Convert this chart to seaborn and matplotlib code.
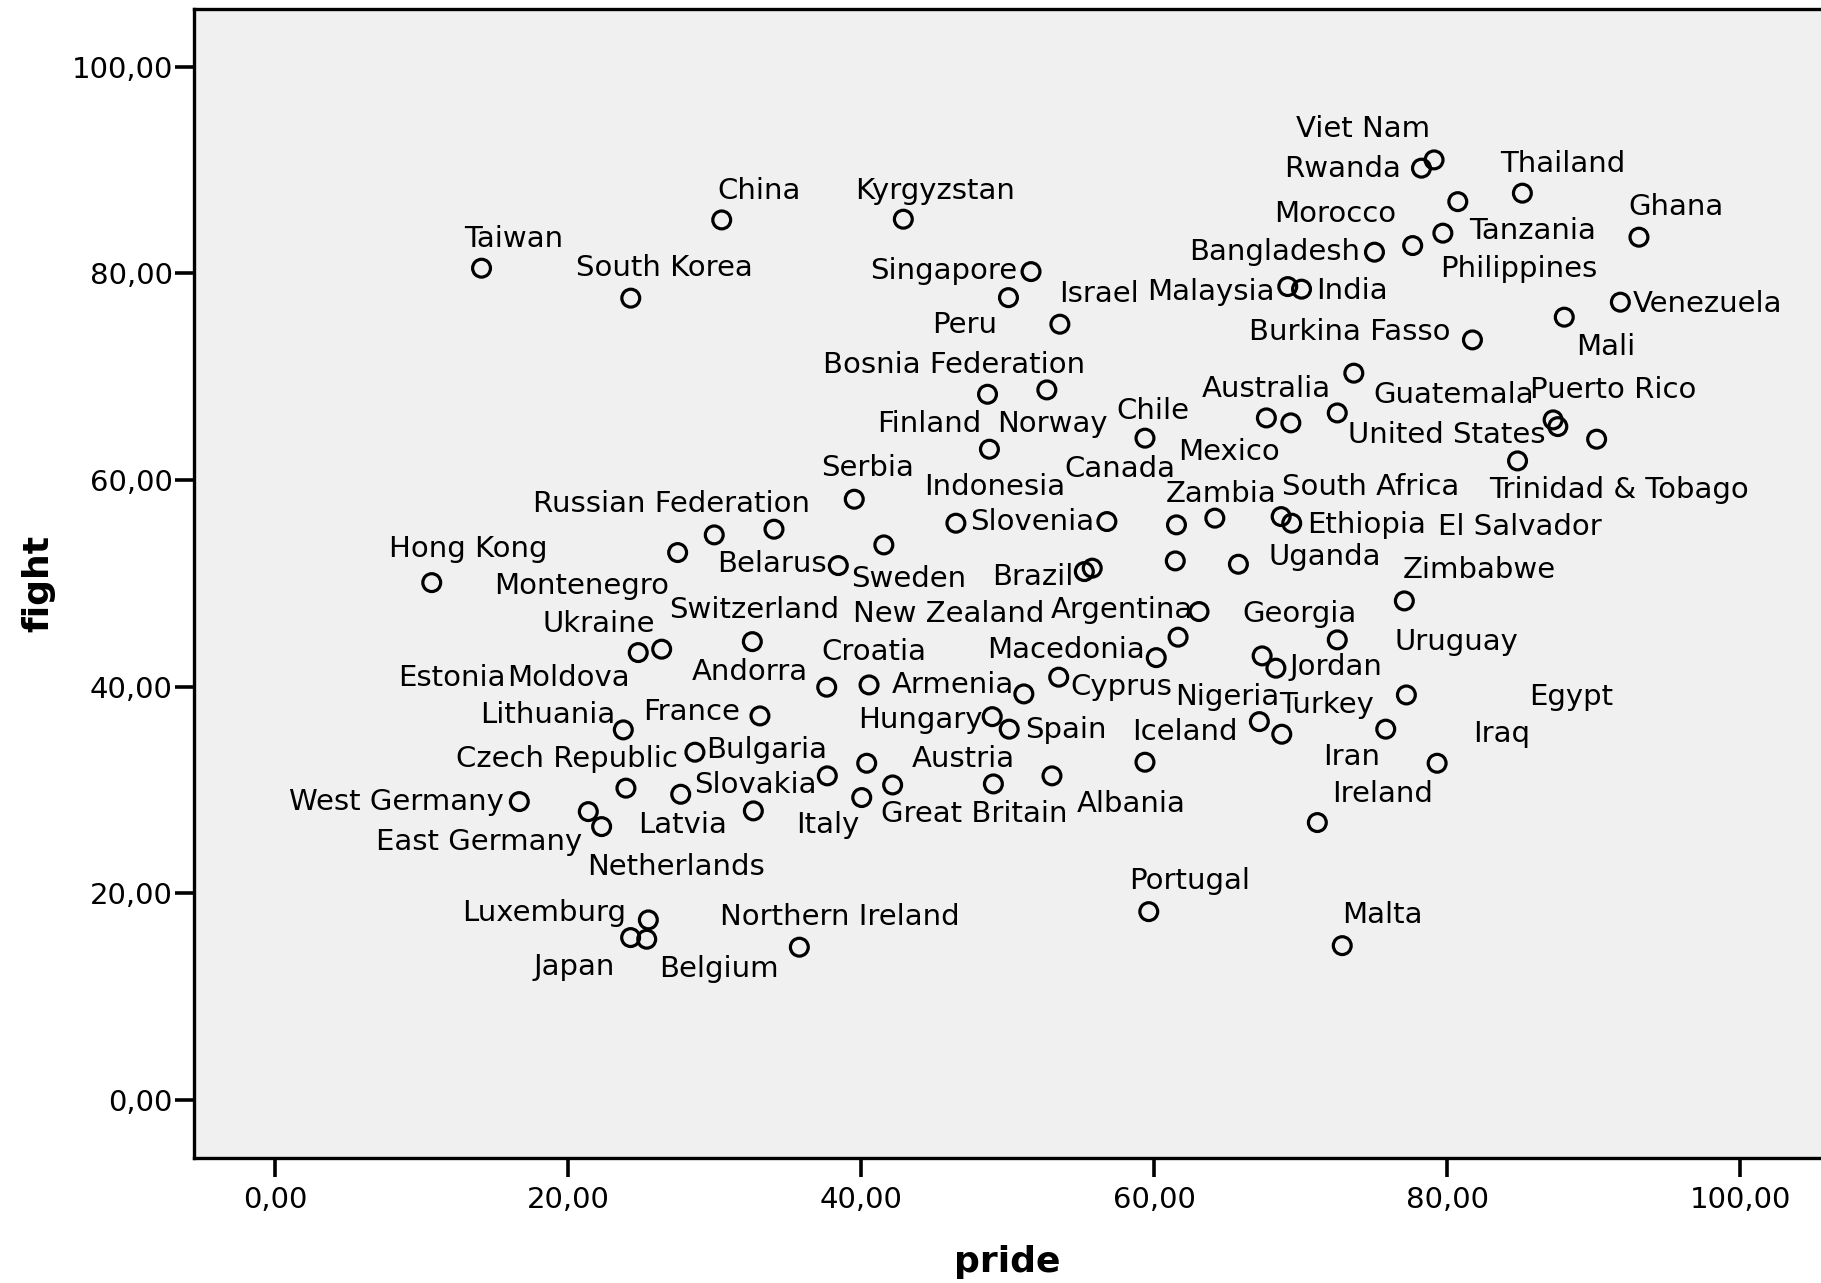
import matplotlib
matplotlib.use("Agg")
import matplotlib.pyplot as plt
import seaborn as sns
import pandas as pd

# Country-level percentages: national pride vs. willingness to fight for the country
countries = [
    "Taiwan", "South Korea", "China", "Kyrgyzstan", "Singapore", "Peru", "Israel",
    "Bosnia Federation", "Norway", "Finland",
    "Viet Nam", "Rwanda", "Thailand", "Tanzania", "Philippines", "Morocco", "Bangladesh",
    "Ghana", "Malaysia", "India",
    "Venezuela", "Mali", "Burkina Fasso", "Australia", "Guatemala", "Puerto Rico",
    "United States", "Trinidad & Tobago", "El Salvador", "Mexico",
    "Chile", "Canada", "Indonesia", "Zambia", "South Africa", "Ethiopia", "Slovenia",
    "Brazil", "New Zealand", "Uganda",
    "Zimbabwe", "Georgia", "Uruguay", "Jordan", "Egypt", "Nigeria", "Turkey", "Iran",
    "Iraq", "Ireland",
    "Portugal", "Malta", "Iceland", "Serbia", "Russian Federation", "Belarus", "Hong Kong",
    "Montenegro", "Sweden", "Switzerland",
    "Ukraine", "Moldova", "Estonia", "Croatia", "Andorra", "Lithuania", "France",
    "Czech Republic", "Bulgaria", "Slovakia",
    "West Germany", "Latvia", "Italy", "East Germany", "Netherlands", "Armenia", "Hungary",
    "Spain", "Austria", "Great Britain",
    "Albania", "Cyprus", "Macedonia", "Argentina", "Luxemburg", "Japan", "Belgium",
    "Northern Ireland",
]

pride = [
    14.07, 24.26, 30.47, 42.87, 51.59, 50.05, 53.56, 48.62, 52.67, 48.75,
    79.11, 78.25, 85.14, 80.73, 79.71, 77.65, 75.04, 93.10, 69.12, 70.06,
    91.83, 88.00, 81.73, 67.66, 73.63, 87.24, 87.56, 90.21, 84.81, 69.33,
    59.37, 64.14, 46.46, 61.52, 68.67, 69.39, 56.77, 55.23, 55.77, 65.75,
    77.08, 67.37, 72.50, 68.31, 77.22, 67.18, 75.81, 68.71, 79.32, 71.14,
    59.63, 72.84, 59.37, 39.52, 34.04, 38.43, 10.67, 27.46, 41.54, 32.56,
    24.77, 26.37, 29.96, 40.53, 37.64, 23.75, 33.08, 23.93, 28.64, 37.68,
    16.65, 27.67, 32.63, 22.27, 21.36, 51.10, 48.94, 50.10, 40.37, 40.03,
    53.02, 53.48, 60.14, 63.06, 25.46, 24.25, 25.35, 35.77,
]

fight = [
    80.49, 77.59, 85.16, 85.23, 80.16, 77.64, 75.07, 68.29, 68.71, 62.97,
    90.97, 90.17, 87.75, 86.93, 83.88, 82.68, 82.04, 83.49, 78.71, 78.46,
    77.20, 75.75, 73.55, 66.00, 70.33, 65.81, 65.16, 63.94, 61.84, 65.52,
    64.04, 56.30, 55.81, 55.65, 56.45, 55.81, 55.97, 51.13, 51.46, 51.84,
    48.29, 42.97, 44.52, 41.78, 39.19, 36.61, 35.88, 35.39, 32.58, 26.84,
    18.22, 14.93, 32.68, 58.13, 55.23, 51.71, 50.06, 52.97, 53.71, 44.35,
    43.29, 43.62, 54.68, 40.16, 39.94, 35.81, 37.16, 30.17, 33.65, 31.36,
    28.87, 29.58, 27.97, 26.45, 27.90, 39.29, 37.09, 35.88, 32.58, 29.26,
    31.36, 40.91, 42.80, 47.26, 17.42, 15.71, 15.55, 14.78,
]

# Cases whose labels are not printed
unlabeled_pride = [72.50, 61.63, 61.44, 42.14, 49.02]
unlabeled_fight = [66.48, 44.78, 52.16, 30.48, 30.58]

tick_values = [0, 20, 40, 60, 80, 100]
tick_labels = ["0,00", "20,00", "40,00", "60,00", "80,00", "100,00"]

# Where each case label sits: offset in pixels from the marker to the
# left end of the label's baseline (dx to the right, dy upward)
label_offsets = {
    "Taiwan": (-17.0, 21.6), "South Korea": (-54.3, 22.3), "China": (-4.0, 21.0),
    "Kyrgyzstan": (-48.3, 20.3), "Singapore": (-161.0, -7.6), "Peru": (-76.4, -35.6),
    "Israel": (-1.2, 22.6), "Bosnia Federation": (-164.1, 21.0), "Norway": (-49.4, -41.7),
    "Finland": (-112.7, 17.6), "Viet Nam": (-138.4, 23.3), "Rwanda": (-137.2, -8.4),
    "Thailand": (-21.8, 21.6), "Tanzania": (11.1, -37.6), "Philippines": (-2.8, -44.0),
    "Morocco": (-138.4, 24.0), "Bangladesh": (-185.2, -7.7), "Ghana": (-10.7, 22.3),
    "Malaysia": (-140.9, -13.3), "India": (15.0, -10.0), "Venezuela": (12.7, -10.0),
    "Mali": (11.4, -37.7), "Burkina Fasso": (-223.8, 0.0), "Australia": (-64.7, 21.3),
    "Guatemala": (19.5, -30.0), "Puerto Rico": (-22.9, 21.7), "United States": (-210.1, -16.6),
    "Trinidad & Tobago": (-107.2, -59.0), "El Salvador": (-79.2, -74.0), "Mexico": (-113.2, -37.0),
    "Chile": (-28.9, 19.3), "Canada": (-150.9, 41.3), "Indonesia": (-31.7, 28.3),
    "Zambia": (-10.5, 23.3), "South Africa": (0.6, 21.7), "Ethiopia": (15.0, -9.4),
    "Slovenia": (-137.2, -8.3), "Brazil": (-91.8, -13.3), "New Zealand": (-239.3, -53.4),
    "Uganda": (29.9, -0.7), "Zimbabwe": (-1.1, 22.7), "Georgia": (-19.4, 34.3),
    "Uruguay": (57.1, -10.0), "Jordan": (14.1, -6.7), "Egypt": (122.6, -10.0),
    "Nigeria": (-84.0, 16.7), "Turkey": (-106.8, 16.0), "Iran": (41.6, -30.7),
    "Iraq": (35.6, 21.6), "Ireland": (14.3, 21.0), "Portugal": (-20.1, 22.4),
    "Malta": (0.0, 22.4), "Iceland": (-13.1, 22.3), "Serbia": (-32.9, 23.3),
    "Russian Federation": (-240.7, 17.6), "Belarus": (-121.6, -6.0), "Hong Kong": (-42.7, 25.4),
    "Montenegro": (-183.7, -41.3), "Sweden": (-32.8, -41.7), "Switzerland": (-83.0, 23.4),
    "Ukraine": (-96.0, 21.0), "Moldova": (-155.0, -36.7), "Estonia": (-316.0, -151.0),
    "Croatia": (-47.6, 25.0), "Andorra": (-135.0, 7.3), "Lithuania": (-143.3, 6.7),
    "France": (-116.7, -4.0), "Czech Republic": (-170.0, 21.6), "Bulgaria": (11.7, -6.0),
    "Slovakia": (-133.3, -16.7), "West Germany": (-230.6, -8.3), "Latvia": (-42.4, -39.0),
    "Italy": (42.7, -22.3), "East Germany": (-226.1, -23.3), "Netherlands": (-1.0, -63.3),
    "Armenia": (-132.1, 0.7), "Hungary": (-134.4, -11.6), "Spain": (15.8, -9.0),
    "Austria": (44.9, -3.4), "Great Britain": (19.0, -24.0), "Albania": (24.5, -35.7),
    "Cyprus": (11.8, -17.7), "Macedonia": (-168.8, -0.6), "Argentina": (-148.2, -6.6),
    "Luxemburg": (-186.6, -1.0), "Japan": (-96.7, -37.3), "Belgium": (12.6, -37.4),
    "Northern Ireland": (-79.3, 22.3),
}

points = pd.DataFrame({
    "pride": pride + unlabeled_pride,
    "fight": fight + unlabeled_fight,
})

fig = plt.figure(figsize=(18.21, 12.83), dpi=100)
fig.patch.set_facecolor("white")
ax = fig.add_axes([0.1064, 0.0972, 0.8936, 0.8956])
ax.set_facecolor("#f0f0f0")

sns.scatterplot(
    data=points, x="pride", y="fight", ax=ax, s=165, marker="o",
    facecolor="none", edgecolor="black", linewidth=2.3, zorder=3, legend=False,
)

for name, x, y in zip(countries, pride, fight):
    dx, dy = label_offsets[name]
    ax.annotate(
        name, (x, y), xytext=(dx, dy), textcoords="offset pixels",
        ha="left", va="baseline", fontsize=21, family="DejaVu Sans",
        color="black", zorder=4,
    )

ax.set_xlim(-5.58, 105.53)
ax.set_ylim(-5.65, 105.55)
ax.set_xticks(tick_values)
ax.set_xticklabels(tick_labels)
ax.set_yticks(tick_values)
ax.set_yticklabels(tick_labels)
ax.tick_params(direction="out", length=13.5, width=2.6, color="black",
               labelsize=21, labelcolor="black")
ax.tick_params(axis="x", pad=6.5)
ax.tick_params(axis="y", pad=1.5)
ax.grid(False)

for side in ("left", "bottom", "top"):
    ax.spines[side].set_linewidth(2.4)
    ax.spines[side].set_color("black")
ax.spines["right"].set_visible(False)

ax.set_xlabel("pride", fontsize=26, fontweight="bold", family="DejaVu Sans", va="center")
ax.set_ylabel("fight", fontsize=26, fontweight="bold", family="DejaVu Sans",
              va="center", ha="center")
ax.xaxis.set_label_coords(0.5, -0.0903)
ax.yaxis.set_label_coords(-0.0955, 0.5)

fig.savefig("out.png", dpi=100, facecolor="white")
